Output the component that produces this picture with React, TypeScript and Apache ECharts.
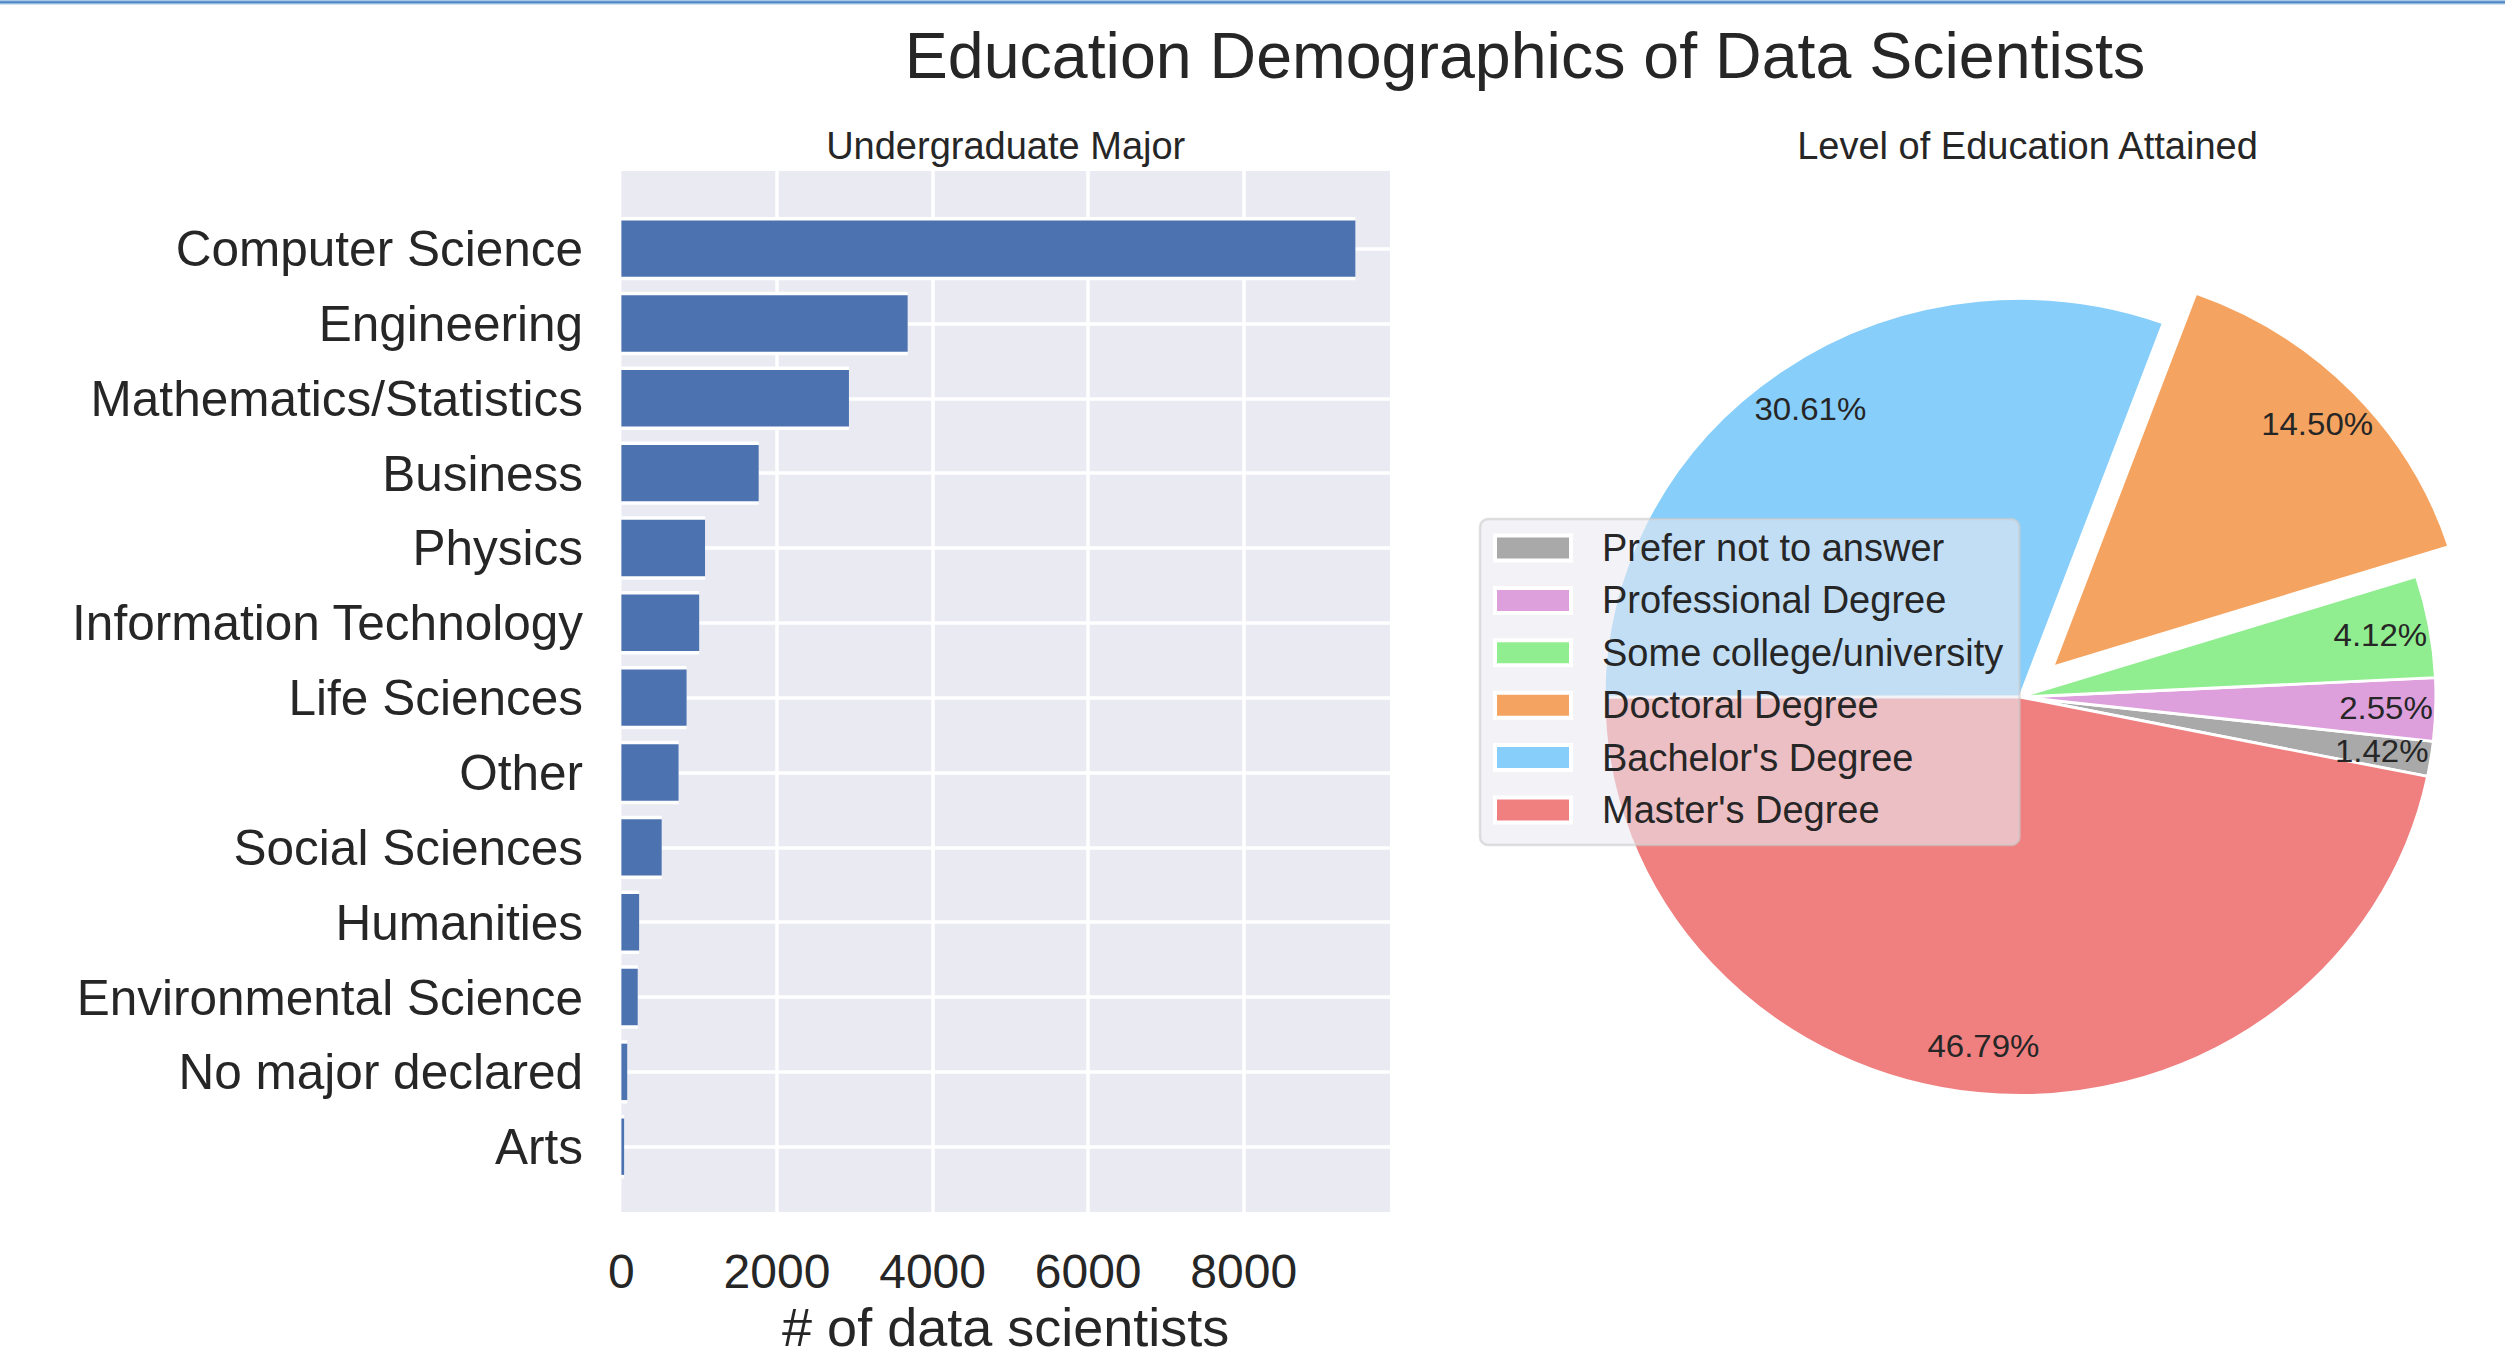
import React, { useEffect, useRef } from 'react';
import * as echarts from 'echarts';

const FONT = '"Liberation Sans", Arial, Helvetica, sans-serif';
const TEXT = '#262626';

const figureTitle = 'Education Demographics of Data Scientists';
const barPanelTitle = 'Undergraduate Major';
const piePanelTitle = 'Level of Education Attained';
const barAxisName = '# of data scientists';

const majors = [
  'Computer Science',
  'Engineering',
  'Mathematics/Statistics',
  'Business',
  'Physics',
  'Information Technology',
  'Life Sciences',
  'Other',
  'Social Sciences',
  'Humanities',
  'Environmental Science',
  'No major declared',
  'Arts',
];
const majorCounts = [9435, 3680, 2925, 1765, 1075, 1000, 838, 735, 518, 228, 210, 75, 35];
const xTickStep = 2000;
const xAxisMax = 9880;

const eduLevels = [
  'Prefer not to answer',
  'Professional Degree',
  'Some college/university',
  'Doctoral Degree',
  "Bachelor's Degree",
  "Master's Degree",
];
const eduShares = [1.42, 2.55, 4.12, 14.5, 30.61, 46.79];
const eduColors = ['#A9A9A9', '#DDA0DD', '#90EE90', '#F4A460', '#87CEFA', '#F08080'];
const eduExploded = [false, false, false, true, false, false];

// pie geometry (the original pie is slightly elliptical: drawn on a non-equal-aspect axes)
const PIE_CX = 2020;
const PIE_CY = 697;
const PIE_RX = 416;
const PIE_ASPECT = 0.958;

export default function App() {
  const mainRef = useRef<HTMLDivElement>(null);
  const pieRef = useRef<HTMLDivElement>(null);

  useEffect(() => {
    document.body.style.margin = '0';
    document.body.style.overflow = 'hidden';
    const pieChart = echarts.init(pieRef.current as HTMLDivElement, undefined, { renderer: 'svg' });
    const chart = echarts.init(mainRef.current as HTMLDivElement, undefined, { renderer: 'svg' });

    // layout of the bar panel
    const plotLeft = 621.4;
    const plotWidth = 768.6;
    const plotTop = 171;
    const plotHeight = 1053.5;
    const barTop = 248.6;
    const barHeight = 898.1;
    const barThick = 56.4; // blue part of each bar
    const barEdge = 3.5; // white edge around each bar

    const explodeOffset = 45;
    const startAngle = -11.5;

    const legendLeft = 1480;
    const legendTop = 519;
    const legendW = 539.5;
    const legendH = 326;
    const rowFirst = 29;
    const rowStep = 52.4;

    const graphic: any[] = [
      { type: 'rect', shape: { x: 0, y: 0, width: 2505, height: 4.5 }, style: { fill: '#A9C8E8' }, silent: true },
      { type: 'rect', shape: { x: 0, y: 1.2, width: 2505, height: 2 }, style: { fill: '#4F86C4' }, silent: true },
      {
        type: 'text', x: 1525, y: 56, silent: true,
        style: { text: figureTitle, fontSize: 64.5, fontFamily: FONT, fill: TEXT, textAlign: 'center', textVerticalAlign: 'middle' },
      },
      {
        type: 'text', x: plotLeft + plotWidth / 2, y: 145.5, silent: true,
        style: { text: barPanelTitle, fontSize: 38, fontFamily: FONT, fill: TEXT, textAlign: 'center', textVerticalAlign: 'middle' },
      },
      {
        type: 'text', x: 2027.5, y: 145.5, silent: true,
        style: { text: piePanelTitle, fontSize: 38, fontFamily: FONT, fill: TEXT, textAlign: 'center', textVerticalAlign: 'middle' },
      },
      {
        type: 'rect', z: 100, silent: true,
        shape: { x: legendLeft, y: legendTop, width: legendW, height: legendH, r: 8 },
        style: { fill: 'rgba(234,234,242,0.6)', stroke: 'rgba(204,204,204,0.6)', lineWidth: 2.5 },
      },
    ];
    eduLevels.forEach((name, i) => {
      const cy = legendTop + rowFirst + i * rowStep;
      graphic.push({
        type: 'rect', z: 101, silent: true,
        shape: { x: legendLeft + 15, y: cy - 12.5, width: 76, height: 25 },
        style: { fill: eduColors[i], stroke: '#ffffff', lineWidth: 4 },
      });
      graphic.push({
        type: 'text', z: 101, silent: true, x: legendLeft + 122, y: cy,
        style: { text: name, fontSize: 38, fontFamily: FONT, fill: TEXT, textAlign: 'left', textVerticalAlign: 'middle' },
      });
    });

    const hiddenCategoryAxis = (gridIndex: number) => ({
      gridIndex, type: 'category', data: majors, inverse: true, boundaryGap: false, show: false,
    });

    const option: any = {
      animation: false,
      backgroundColor: 'transparent',
      textStyle: { fontFamily: FONT },
      grid: [
        { left: plotLeft, top: plotTop, width: plotWidth, height: plotHeight, show: true, backgroundColor: '#EAEAF2', borderWidth: 0 },
        { left: plotLeft, top: barTop, width: plotWidth, height: barHeight },
        { left: plotLeft, top: barTop, width: plotWidth, height: barHeight },
      ],
      xAxis: [
        {
          gridIndex: 0, type: 'value', min: 0, max: xAxisMax, interval: xTickStep,
          axisLine: { show: false }, axisTick: { show: false },
          splitLine: { show: true, showMinLine: false, showMaxLine: false, lineStyle: { color: '#ffffff', width: 3.5 } },
          axisLabel: {
            fontSize: 48, color: TEXT, margin: 35, fontFamily: FONT, showMaxLabel: false,
            formatter: (v: number) => (v % xTickStep === 0 ? String(v) : ''),
          },
          name: barAxisName, nameLocation: 'middle', nameGap: 82,
          nameTextStyle: { fontSize: 54, color: TEXT, fontFamily: FONT },
        },
        { gridIndex: 1, type: 'value', min: 0, max: xAxisMax, show: false },
        { gridIndex: 2, type: 'value', min: 0, max: xAxisMax, show: false },
      ],
      yAxis: [
        { gridIndex: 0, type: 'value', min: 0, max: 1, show: false },
        {
          gridIndex: 1, type: 'category', data: majors, inverse: true, boundaryGap: false,
          axisLine: { show: false }, axisTick: { show: false },
          splitLine: { show: true, interval: 0, lineStyle: { color: '#ffffff', width: 3.5 } },
          axisLabel: { interval: 0, fontSize: 49.5, color: TEXT, margin: 38.4, fontFamily: FONT },
        },
        hiddenCategoryAxis(2),
      ],
      series: [
        {
          // white edge behind each bar
          type: 'bar', xAxisIndex: 2, yAxisIndex: 2, data: majorCounts, barWidth: barThick + 2 * barEdge, clip: false,
          itemStyle: { color: '#ffffff', borderWidth: 0 }, z: 2,
          emphasis: { disabled: true }, silent: true,
        },
        {
          type: 'bar', xAxisIndex: 1, yAxisIndex: 1, data: majorCounts, barWidth: barThick, clip: false,
          itemStyle: { color: '#4C72B0', borderWidth: 0 }, z: 3,
          emphasis: { disabled: true }, silent: true,
        },
      ],
      graphic,
    };

    const pieData = eduLevels.map((name, i) => ({
      name,
      value: eduShares[i],
      selected: eduExploded[i],
      itemStyle: { color: eduColors[i] },
      select: { itemStyle: { color: eduColors[i], borderColor: '#ffffff', borderWidth: 3 } },
    }));
    const labelData = eduLevels.map((name, i) => ({
      name,
      value: eduShares[i],
      selected: eduExploded[i],
      itemStyle: { color: 'rgba(0,0,0,0)' },
      select: { itemStyle: { color: 'rgba(0,0,0,0)', borderWidth: 0 } },
    }));

    const pieOption: any = {
      animation: false,
      backgroundColor: 'transparent',
      textStyle: { fontFamily: FONT },
      series: [
        {
          type: 'pie', center: [PIE_CX, PIE_CY], radius: PIE_RX, startAngle, clockwise: false,
          selectedMode: 'multiple', selectedOffset: explodeOffset,
          data: pieData,
          itemStyle: { borderColor: '#ffffff', borderWidth: 3 },
          label: { show: false }, labelLine: { show: false },
          emphasis: { disabled: true },
        },
        {
          type: 'pie', center: [PIE_CX, PIE_CY], radius: [PIE_RX * 0.746, PIE_RX], startAngle, clockwise: false,
          selectedMode: 'multiple', selectedOffset: explodeOffset,
          data: labelData,
          itemStyle: { borderWidth: 0 },
          label: {
            show: true, position: 'inside', rotate: 0, fontSize: 33, color: TEXT, fontFamily: FONT,
            textBorderWidth: 0,
            formatter: (p: any) => Number(p.value).toFixed(2) + '%',
          },
          labelLine: { show: false },
          emphasis: { disabled: true },
        },
      ],
    };

    pieChart.setOption(pieOption);
    chart.setOption(option);
    return () => {
      chart.dispose();
      pieChart.dispose();
    };
  }, []);

  return (
    <div style={{ position: 'fixed', left: 0, top: 0, width: 2505, height: 1359, background: '#ffffff', overflow: 'hidden' }}>
      <div
        ref={pieRef}
        style={{
          position: 'absolute', left: 0, top: 0, width: 2505, height: 1359,
          transform: `scaleY(${PIE_ASPECT})`, transformOrigin: `${PIE_CX}px ${PIE_CY}px`,
        }}
      />
      <div ref={mainRef} style={{ position: 'absolute', left: 0, top: 0, width: 2505, height: 1359 }} />
    </div>
  );
}
